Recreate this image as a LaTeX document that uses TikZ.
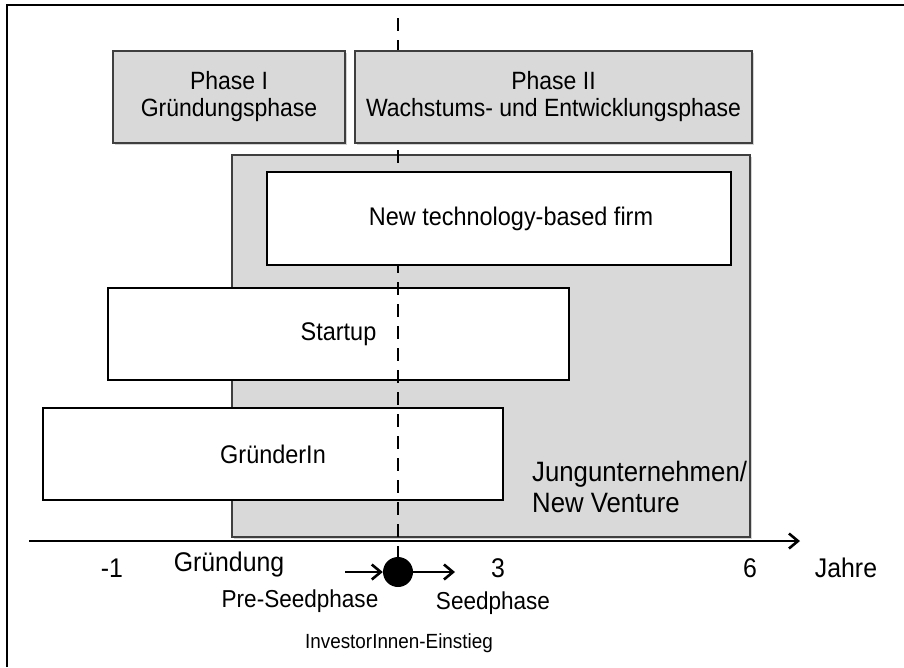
\documentclass[tikz,border=0pt]{standalone}
\usepackage{fontspec}
\setmainfont[FakeStretch=0.92]{Liberation Sans}
\usetikzlibrary{arrows.meta,shadows}
\definecolor{panelgray}{HTML}{D9D9D9}
\definecolor{edgegray}{HTML}{3F3F3F}
\begin{document}
\begin{tikzpicture}[x=1pt,y=-1pt,
  phasebox/.style={draw=edgegray,line width=1.3pt,fill=panelgray,
    drop shadow={shadow xshift=1.5pt,shadow yshift=-1.5pt,opacity=0.35},
    inner sep=0pt,align=center,font=\fontsize{25}{27}\selectfont},
  areabox/.style={draw=edgegray,line width=1.3pt,fill=panelgray,
    drop shadow={shadow xshift=1.5pt,shadow yshift=-1.5pt,opacity=0.35},inner sep=0pt},
  whitebox/.style={draw=black,line width=2.8pt,fill=white,inner sep=0pt,
    drop shadow={shadow xshift=1.2pt,shadow yshift=-1.2pt,opacity=0.25},
    font=\fontsize{25.5}{28}\selectfont},
  axislabel/.style={font=\fontsize{27}{30}\selectfont,inner sep=0pt},
  phaselabel/.style={font=\fontsize{24.5}{27}\selectfont,inner sep=0pt},
  barb/.style={-{Straight Barb[length=9pt,width=15pt,line width=2.6pt]},line width=2.6pt}
]
\useasboundingbox (0,0) rectangle (904,667);
% outer frame (only left and top edges fall inside the page)
\draw[line width=1.8pt] (7,667) -- (7,5) -- (904,5);

% background area for young ventures
\node[areabox,minimum width=518pt,minimum height=382pt] (area) at (491,346) {};
\node[anchor=west,align=left,font=\fontsize{28}{31}\selectfont,inner sep=0pt] (venture)
  at (532,487) {Jungunternehmen/\\New Venture};

% lower bars
\node[whitebox,minimum width=461pt,minimum height=92pt] (startup) at (338.5,334) {Startup};
\node[whitebox,minimum width=460pt,minimum height=92pt] (founder) at (273,454) {GründerIn};

% investor entry marker
\node[circle,fill=black,inner sep=0pt,minimum size=30pt] (entry) at (398,572) {};
\coordinate (dtop) at (398,18);
\draw[line width=2.6pt,dash pattern=on 13pt off 9pt] (dtop) -- (entry.north);

% upper bar and phase headers
\node[whitebox,minimum width=464pt,minimum height=93pt,
  label={[xshift=12pt,font=\fontsize{25.5}{28}\selectfont]center:New technology-based firm}]
  (ntbf) at (499,218.5) {};
\node[phasebox,minimum width=232pt,minimum height=92pt] (phase1) at (229,97)
  {Phase I\\Gründungsphase};
\node[phasebox,minimum width=397pt,minimum height=92pt] (phase2) at (553.5,97)
  {Phase II\\Wachstums- und Entwicklungsphase};
\path[use as bounding box] (0,0) rectangle (904,667);

% time axis
\coordinate (axl) at (29,541);
\coordinate (axr) at (800,541);
\draw[barb,line width=2.8pt] (axl) -- (axr);

\node[axislabel] (m1) at (112,568) {-1};
\node[axislabel] (gr) at (229,565) {Gründung};
\node[axislabel] (y3) at (498,568) {3};
\node[axislabel] (y6) at (750,568) {6};
\node[axislabel] (jahre) at (846,568) {Jahre};

% seed phase arrows
\coordinate (pre) at (345,572);
\coordinate (post) at (455,572);
\draw[barb] (pre) -- (entry.west);
\draw[barb] (entry.east) -- (post);

\node[phaselabel] (preseed) at (300,601) {Pre-Seedphase};
\node[phaselabel] (seed) at (493,603) {Seedphase};
\node[font=\fontsize{20.5}{23}\selectfont,inner sep=0pt] (invest) at (399,643)
  {InvestorInnen-Einstieg};
\end{tikzpicture}
\end{document}
